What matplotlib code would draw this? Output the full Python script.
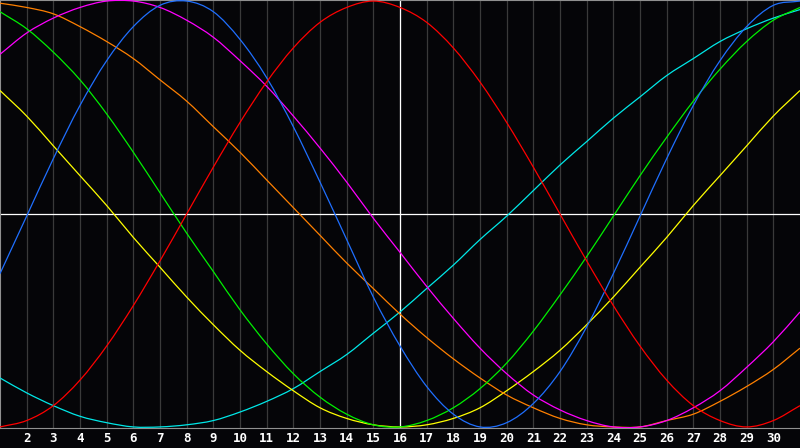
import numpy as np
import matplotlib
matplotlib.use('Agg')
import matplotlib.pyplot as plt
from matplotlib.path import Path
from matplotlib.patches import PathPatch

# day numbers along the x axis
days = list(range(1, 32))
tick_days = list(range(2, 31))

# cycle values per day (-1 .. 1)
red = [-1.00, -0.97, -0.90, -0.78, -0.62, -0.43, -0.22, 0.00, 0.22, 0.43, 0.62,
       0.78, 0.90, 0.97, 1.00, 0.97, 0.90, 0.78, 0.62, 0.43, 0.22, 0.00,
       -0.22, -0.43, -0.62, -0.78, -0.90, -0.97, -1.00, -0.97, -0.90]
blue = [-0.28, -0.01, 0.26, 0.51, 0.72, 0.88, 0.98, 1.00, 0.95, 0.82, 0.64,
        0.41, 0.15, -0.12, -0.39, -0.62, -0.81, -0.94, -1.00, -0.98, -0.89,
        -0.74, -0.53, -0.28, -0.01, 0.26, 0.51, 0.72, 0.88, 0.98, 1.00]
green = [0.95, 0.87, 0.76, 0.63, 0.47, 0.29, 0.10, -0.09, -0.27, -0.45, -0.61,
         -0.75, -0.86, -0.94, -0.99, -1.00, -0.97, -0.91, -0.82, -0.70, -0.55,
         -0.38, -0.20, -0.01, 0.18, 0.36, 0.53, 0.68, 0.81, 0.91, 0.97]
cyan = [-0.77, -0.84, -0.90, -0.95, -0.98, -1.00, -1.00, -0.99, -0.97, -0.93,
        -0.88, -0.82, -0.74, -0.66, -0.56, -0.46, -0.35, -0.24, -0.12, -0.01,
        0.11, 0.23, 0.34, 0.45, 0.55, 0.65, 0.73, 0.81, 0.87, 0.92, 0.96]
magenta = [0.75, 0.85, 0.92, 0.97, 1.00, 1.00, 0.97, 0.91, 0.83, 0.72, 0.60,
           0.46, 0.31, 0.15, -0.02, -0.18, -0.34, -0.49, -0.63, -0.75, -0.85,
           -0.92, -0.97, -1.00, -1.00, -0.97, -0.91, -0.83, -0.72, -0.60, -0.46]
yellow = [0.58, 0.46, 0.32, 0.18, 0.04, -0.11, -0.25, -0.39, -0.52, -0.64,
          -0.74, -0.83, -0.91, -0.96, -0.99, -1.00, -0.99, -0.96, -0.91, -0.83,
          -0.74, -0.64, -0.52, -0.39, -0.25, -0.11, 0.04, 0.18, 0.32, 0.46, 0.58]
orange = [0.99, 0.97, 0.94, 0.88, 0.81, 0.73, 0.63, 0.53, 0.41, 0.29, 0.16,
          0.03, -0.10, -0.23, -0.35, -0.47, -0.58, -0.68, -0.77, -0.85, -0.91,
          -0.96, -0.99, -1.00, -1.00, -0.97, -0.94, -0.88, -0.81, -0.73, -0.63]

series = [
    (cyan, '#00e8e8'),
    (yellow, '#ffff00'),
    (orange, '#ff8000'),
    (magenta, '#ff00ff'),
    (green, '#00f000'),
    (blue, '#1f6fff'),
    (red, '#ff0000'),
]


def smooth_path(xs, ys):
    """ Bezier path through the points (catmull-rom style handles) """
    p = np.column_stack([xs, ys]).astype(float)
    ext = np.vstack([2 * p[0] - p[1], p, 2 * p[-1] - p[-2]])
    verts = [p[0]]
    codes = [Path.MOVETO]
    for i in range(len(p) - 1):
        a, b, c, d = ext[i], ext[i + 1], ext[i + 2], ext[i + 3]
        verts += [b + (c - a) / 6, c - (d - b) / 6, c]
        codes += [Path.CURVE4] * 3
    return Path(verts, codes)


bg = '#050508'
fig = plt.figure(figsize=(8, 4.48), dpi=100, facecolor=bg)
ax = fig.add_axes([0, 20 / 448, 1, 428 / 448])
ax.set_facecolor(bg)

# day grid + centre cross
for d in tick_days:
    ax.axvline(d, color='#3a3a3a', lw=0.9, zorder=1)
ax.axvline(16, color='white', lw=0.9, zorder=2)
ax.axhline(0, color='white', lw=0.9, zorder=2)

for vals, col in series:
    ax.add_patch(PathPatch(smooth_path(days, vals), fill=False,
                           edgecolor=col, lw=0.9, zorder=3))

ax.set_xlim(1, 31)
ax.set_ylim(-1.005, 1.005)
ax.spines['right'].set_visible(False)
for s in ['top', 'left', 'bottom']:
    ax.spines[s].set_color('#909090')
ax.set_yticks([])
ax.set_xticks(tick_days)
ax.set_xticklabels([str(d) for d in tick_days])
ax.tick_params(axis='x', length=0, pad=3, labelcolor='white', labelsize=9)
for lb in ax.get_xticklabels():
    lb.set_fontweight('bold')
    lb.set_family('DejaVu Sans Mono')

fig.savefig('out.png', dpi=100, facecolor=fig.get_facecolor())
